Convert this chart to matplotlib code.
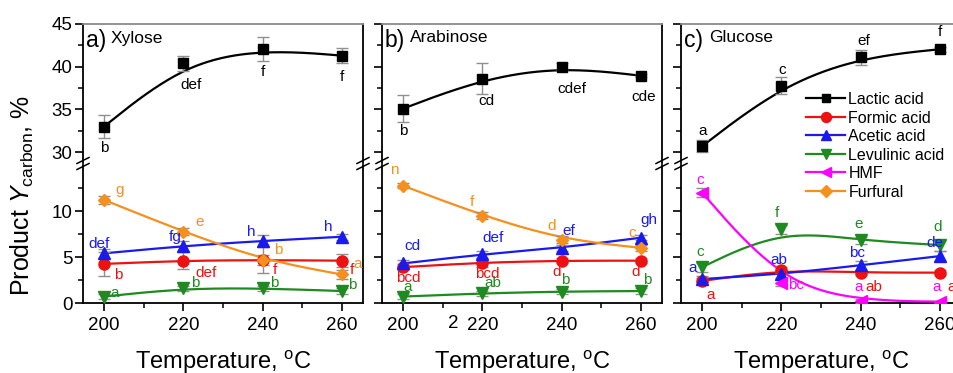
import numpy as np
import matplotlib
matplotlib.use("Agg")
import matplotlib.pyplot as plt
from matplotlib.lines import Line2D
from matplotlib.ticker import MultipleLocator, FixedLocator

plt.rcParams['font.family'] = ['Liberation Sans', 'DejaVu Sans']
plt.rcParams['mathtext.fontset'] = 'custom'
plt.rcParams['mathtext.rm'] = 'Liberation Sans'
plt.rcParams['mathtext.it'] = 'Liberation Sans:italic'

# ---------------- data ----------------
temps = [200, 220, 240, 260]
panel_names = ["Xylose", "Arabinose", "Glucose"]
panel_letters = ["a)", "b)", "c)"]

# Lactic acid (upper part)
lactic = [[33.0, 40.4, 42.05, 41.3],
          [35.1, 38.6, 40.0, 38.95],
          [30.7, 37.8, 41.1, 42.05]]
lactic_err = [[1.3, 0.9, 1.4, 0.9],
              [1.6, 1.8, 0.4, 0.2],
              [0.7, 1.0, 0.9, 0.3]]
lactic_lbl = [["b", "def", "f", "f"],
              ["b", "cd", "cdef", "cde"],
              ["a", "c", "ef", "f"]]

formic = [[4.25, 4.6, 4.67, 4.6],
          [3.9, 4.4, 4.6, 4.6],
          [2.4, 3.6, 3.3, 3.3]]
formic_err = [[1.3, 0.9, 1.4, 0.7],
              [0.3, 0.5, 0.3, 0.3],
              [0.3, 0.3, 0.3, 0.3]]
formic_lbl = [["b", "def", "f", "f"],
              ["bcd", "bcd", "d", "d"],
              ["a", "", "ab", "a"]]

acetic = [[5.4, 6.2, 6.75, 7.2],
          [4.3, 5.3, 6.0, 7.1],
          [2.6, 3.15, 4.1, 5.1]]
acetic_err = [[0.5, 0.5, 0.6, 0.3],
              [0.4, 0.4, 0.3, 0.3],
              [0.3, 0.4, 0.5, 0.5]]
acetic_lbl = [["def", "fg", "h", "h"],
              ["cd", "def", "ef", "gh"],
              ["a", "ab", "bc", "de"]]

levulinic = [[0.7, 1.6, 1.6, 1.3],
             [0.7, 1.05, 1.25, 1.3],
             [3.9, 8.0, 6.8, 6.3]]
levulinic_err = [[0.3, 0.3, 0.3, 0.3],
                 [0.3, 0.3, 0.3, 0.3],
                 [0.5, 0.5, 0.4, 0.6]]
levulinic_lbl = [["a", "b", "b", "b"],
                 ["a", "ab", "b", "b"],
                 ["c", "f", "e", "d"]]

hmf_glucose = [12.0, 2.15, 0.25, 0.15]
hmf_err = [0.5, 0.3, 0.2, 0.1]
hmf_lbl = ["c", "bc", "a", "a"]

furfural = [[11.2, 7.75, 4.67, 3.1],
            [12.75, 9.5, 6.9, 6.0]]
furfural_err = [[0.4, 0.4, 0.5, 0.5],
                [0.3, 0.4, 0.4, 0.3]]
furfural_lbl = [["g", "e", "b", "a"],
                ["n", "f", "d", "c"]]

series_names = ["Lactic acid", "Formic acid", "Acetic acid",
                "Levulinic acid", "HMF", "Furfural"]

# ---------------- style ----------------
C = {"Lactic acid": "black", "Formic acid": "#ee1111", "Acetic acid": "#1a1aee",
     "Levulinic acid": "#1f8a1f", "HMF": "#ff00ff", "Furfural": "#f5901e"}
M = {"Lactic acid": "s", "Formic acid": "o", "Acetic acid": "^",
     "Levulinic acid": "v", "HMF": "<", "Furfural": "D"}
MS = {"Lactic acid": 7, "Formic acid": 8, "Acetic acid": 8,
      "Levulinic acid": 8, "HMF": 8, "Furfural": 6.5}

# label offsets (pixels) per panel / series / point
off_lactic = [[(0, -21), (8, -22), (0, -23), (0, -21)],
              [(0, -22), (4, -22), (10, -22), (3, -21)],
              [(1, 15), (1, 16), (3, 16), (0, 17)]]
off_formic = [[(14, -11), (23, -12), (12, -10), (10, -9)],
              [(5, -11), (5, -11), (-5, -11), (-5, -11)],
              [(9, -14), (0, 0), (13, -14), (12, -14)]]
off_acetic = [[(-5, 9), (-8, 9), (-11, 9), (-14, 10)],
              [(9, 17), (11, 16), (7, 17), (8, 18)],
              [(-9, 11), (-3, 14), (-4, 12), (-5, 13)]]
off_lev = [[(11, 4), (12, 5), (12, 5), (10, 6)],
           [(5, 10), (10, 10), (4, 11), (6, 11)],
           [(-2, 15), (-4, 16), (-2, 16), (-2, 18)]]
off_furf = [[(16, 10), (16, 10), (16, 10), (16, 10)],
            [(-9, 16), (-10, 14), (-10, 14), (-9, 15)]]
off_hmf = [(-2, 13), (15, -2), (-2, 14), (-3, 15)]

W, H = 954, 373
fig = plt.figure(figsize=(W / 100, H / 100), dpi=100)


def fx(px):
    return px / W


def fy(py):
    return 1 - py / H


def bspline(x, y, n=60):
    P = np.column_stack([x, y]).astype(float)
    Q = np.vstack([P[0], P[0], P, P[-1], P[-1]])
    pts = []
    u = np.linspace(0, 1, n)
    b0 = (1 - u) ** 3 / 6
    b1 = (3 * u ** 3 - 6 * u ** 2 + 4) / 6
    b2 = (-3 * u ** 3 + 3 * u ** 2 + 3 * u + 1) / 6
    b3 = u ** 3 / 6
    for i in range(len(Q) - 3):
        seg = (np.outer(b0, Q[i]) + np.outer(b1, Q[i + 1]) +
               np.outer(b2, Q[i + 2]) + np.outer(b3, Q[i + 3]))
        pts.append(seg)
    pts = np.vstack(pts)
    return pts[:, 0], pts[:, 1]


def draw_series(ax, name, y, err, labels, offs):
    col = C[name]
    bx, by = bspline(temps, y)
    ax.plot(bx, by, color=col, lw=1.6, zorder=3)
    ax.errorbar(temps, y, yerr=err, fmt='none', ecolor='#8f8f8f',
                elinewidth=1.0, capsize=4, capthick=1.0, zorder=4)
    ax.plot(temps, y, linestyle='none', marker=M[name], ms=MS[name],
            color=col, mec=col, zorder=5)
    for t, v, lb, (dx, dy) in zip(temps, y, labels, offs):
        if lb:
            ax.annotate(lb, (t, v), xytext=(dx, dy), textcoords='offset pixels',
                        ha='center', va='center', fontsize=11, color=col,
                        zorder=6, annotation_clip=False)


lefts = [83, 382, 681]
pw = 280
up_top, up_bot = 24, 162.5
lo_top, lo_bot = 165, 303

for i in range(3):
    L = lefts[i]
    axu = fig.add_axes([fx(L), fy(up_bot), pw / W, (up_bot - up_top) / H])
    axl = fig.add_axes([fx(L), fy(lo_bot), pw / W, (lo_bot - lo_top) / H])
    for ax in (axu, axl):
        ax.set_xlim(194.7, 265.3)
        ax.patch.set_alpha(0)
        for s in ax.spines.values():
            s.set_linewidth(1.3)
        ax.tick_params(axis='both', which='major', direction='out', length=6,
                       width=1.2, labelsize=13.5, pad=1.5)
        ax.tick_params(axis='both', which='minor', direction='out', length=3.5,
                       width=1.1)
    axu.set_ylim(28.8, 45)
    axu.yaxis.set_major_locator(FixedLocator([30, 35, 40, 45]))
    axu.yaxis.set_minor_locator(FixedLocator([32.5, 37.5, 42.5]))
    axu.spines['bottom'].set_visible(False)
    axu.spines['top'].set_color('#8a8a8a')
    axu.tick_params(axis='x', which='both', bottom=False, labelbottom=False)
    axl.set_ylim(0, 15)
    axl.yaxis.set_major_locator(FixedLocator([0, 5, 10]))
    axl.yaxis.set_minor_locator(FixedLocator([2.5, 7.5, 12.5]))
    axl.spines['top'].set_visible(False)
    axl.xaxis.set_major_locator(FixedLocator(temps))
    axl.xaxis.set_minor_locator(FixedLocator([210, 230, 250]))
    axl.tick_params(axis='x', which='major', pad=4)
    if i > 0:
        axu.tick_params(axis='y', labelleft=False)
        axl.tick_params(axis='y', labelleft=False)

    # upper: lactic acid
    draw_series(axu, "Lactic acid", lactic[i], lactic_err[i], lactic_lbl[i],
                off_lactic[i])
    # lower
    if i < 2:
        draw_series(axl, "Levulinic acid", levulinic[i], levulinic_err[i],
                    levulinic_lbl[i], off_lev[i])
        draw_series(axl, "Formic acid", formic[i], formic_err[i], formic_lbl[i],
                    off_formic[i])
        draw_series(axl, "Acetic acid", acetic[i], acetic_err[i], acetic_lbl[i],
                    off_acetic[i])
        draw_series(axl, "Furfural", furfural[i], furfural_err[i],
                    furfural_lbl[i], off_furf[i])
    else:
        draw_series(axl, "Levulinic acid", levulinic[i], levulinic_err[i],
                    levulinic_lbl[i], off_lev[i])
        draw_series(axl, "Formic acid", formic[i], formic_err[i], formic_lbl[i],
                    off_formic[i])
        draw_series(axl, "Acetic acid", acetic[i], acetic_err[i], acetic_lbl[i],
                    off_acetic[i])
        draw_series(axl, "HMF", hmf_glucose, hmf_err, hmf_lbl, off_hmf)

    # axis-break marks on left and right spines
    for xs in (L, L + pw):
        for yb in (160.5, 166.5):
            fig.add_artist(Line2D([fx(xs - 6), fx(xs + 6)], [fy(yb + 3), fy(yb - 3)],
                                  color='black', lw=1.1))

    # x label
    fig.text(fx(L + pw / 2), fy(362), "Temperature, $^{\\rm o}$C",
             ha='center', va='center', fontsize=17)

    # panel titles
    fig.text(fx(L + 3), fy(40), panel_letters[i], ha='left', va='center',
             fontsize=16.5)
    fig.text(fx(L + 28), fy(38), panel_names[i], ha='left', va='center',
             fontsize=12.5)

# stray "2" in the middle panel tick labels
fig.text(fx(453), fy(323), "2", ha='center', va='center', fontsize=13.5)

# y label
fig.text(fx(22), fy(195), "Product $Y_{\\rm carbon}$, %", rotation=90,
         ha='center', va='center', fontsize=18)

# legend
handles = [Line2D([], [], color=C[n], marker=M[n], ms=MS[n] * 0.9, mec=C[n], lw=1.6)
           for n in series_names]
fig.legend(handles, series_names, loc='upper left',
           bbox_to_anchor=(fx(806), fy(92)), frameon=False, fontsize=11.5,
           handlelength=2.45, handletextpad=0.2, labelspacing=0.22,
           borderpad=0, borderaxespad=0)

fig.savefig("out.png", dpi=100)
